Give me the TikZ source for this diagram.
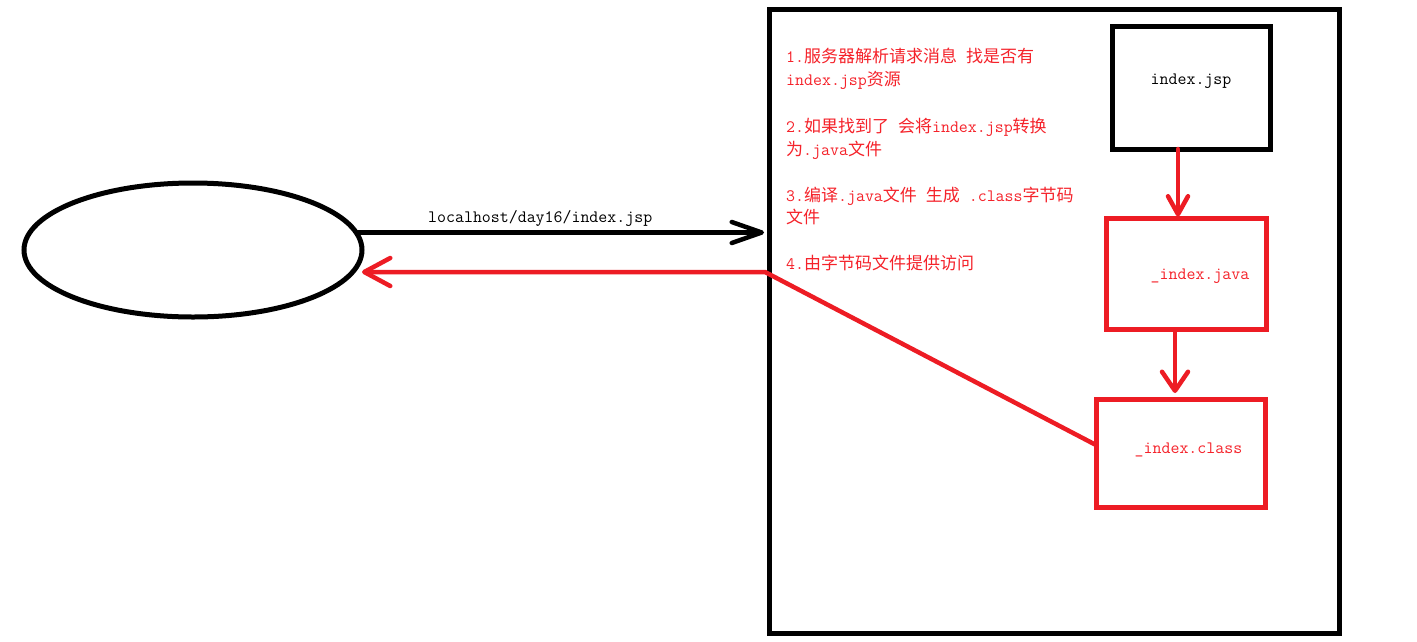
\documentclass[tikz,border=0pt]{standalone}
\usepackage{fontspec}
\setmonofont{Latin Modern Mono}
\newfontfamily\cjk{Noto Sans CJK SC}
\usetikzlibrary{arrows.meta,shapes.geometric}
\definecolor{pred}{HTML}{ED1C24}
\definecolor{tred}{HTML}{F5222A}
\newcommand{\cn}[1]{{\cjk\fontsize{17}{20}\selectfont #1}}
\tikzset{
  x=1pt,y=-1pt,
  box/.style={draw,rectangle,line width=5pt,inner sep=0pt,outer sep=0pt,anchor=north west},
  txt/.style={inner sep=0pt,anchor=base west,font=\ttfamily\fontsize{17.4}{20}\selectfont},
  rtxt/.style={txt,text=tred},
  conn/.style={line width=4.5pt,line cap=round,line join=round},
  pconn/.style={conn,color=pred},
}
\begin{document}
\begin{tikzpicture}
\useasboundingbox[fill=white] (0,0) rectangle (1417,641);
% shapes
\node[box,minimum width=570pt,minimum height=624pt] (srv) at (769.5,9) {};
\node[draw,ellipse,line width=5pt,inner sep=0pt,outer sep=0pt,minimum width=338pt,minimum height=134pt] (el) at (193,250) {};
\node[box,minimum width=158pt,minimum height=123pt] (jsp) at (1112,26) {};
\node[box,draw=pred,minimum width=160pt,minimum height=111pt] (java) at (1106.5,218.5) {};
\node[box,draw=pred,minimum width=169pt,minimum height=108pt] (cls) at (1096,399) {};
% box labels
\node[txt] (tjsp) at (1150.5,84) {index.jsp};
\node[rtxt] (tjava) at (1150.5,279) {\_index.java};
\node[rtxt] (tcls) at (1134.5,453) {\_index.class};
\node[txt] (turl) at (428,222) {localhost/day16/index.jsp};
% steps
\node[rtxt] (s1a) at (786,62) {1.\cn{服务器解析请求消息} \cn{找是否有}};
\node[rtxt] (s1b) at (786,85) {index.jsp\cn{资源}};
\node[rtxt] (s2a) at (786,132) {2.\cn{如果找到了} \cn{会将}index.jsp\cn{转换}};
\node[rtxt] (s2b) at (786,155) {\cn{为}.java\cn{文件}};
\node[rtxt] (s3a) at (786,201) {3.\cn{编译}.java\cn{文件} \cn{生成} .class\cn{字节码}};
\node[rtxt] (s3b) at (786,223) {\cn{文件}};
\node[rtxt] (s4) at (786,269) {4.\cn{由字节码文件提供访问}};
% connectors
\coordinate (reqend) at (764,232.5);
\coordinate (bend) at (765,272);
\draw[conn,-{Straight Barb[length=30pt,width=21pt,round]}] ([shift={(-4pt,17.5pt)}]el.east) -- (reqend);
\draw[pconn,-{Straight Barb[length=26pt,width=28pt,round]}] ([yshift=8pt]cls.west) -- (bend) -- ([yshift=-22pt]el.east);
\draw[pconn,-{Straight Barb[length=18pt,width=20pt,round]}] ([xshift=-13pt]jsp.south) -- ([xshift=-8.5pt,yshift=2pt]java.north);
\draw[pconn,-{Straight Barb[length=19pt,width=26pt,round]}] ([xshift=-11.5pt]java.south) -- ([xshift=-5.5pt,yshift=6pt]cls.north);
\end{tikzpicture}
\end{document}
